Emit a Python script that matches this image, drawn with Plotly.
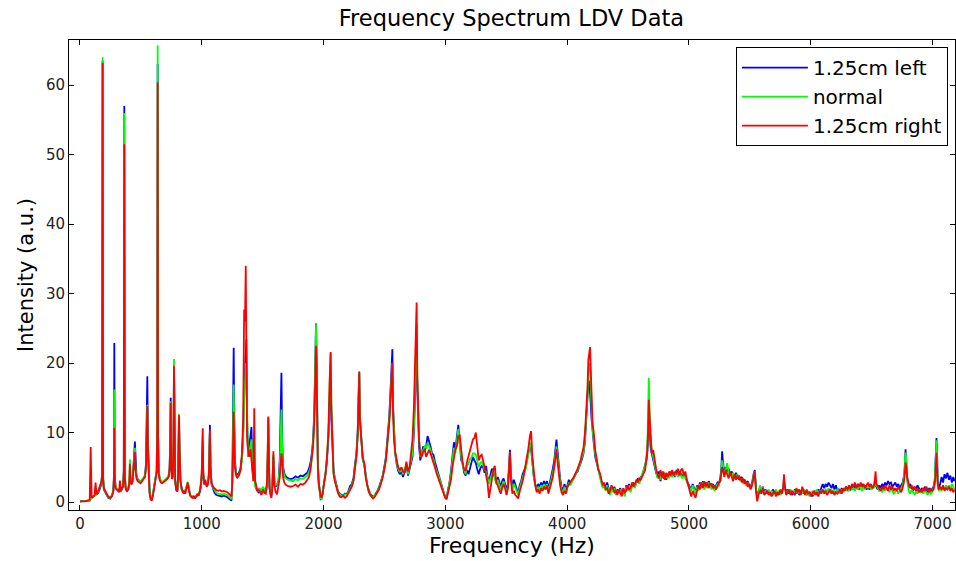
import plotly.graph_objects as go

# LDV spectrum, three probe positions (frequency in Hz, intensity in a.u.)
freq_hz = [
    0, 40, 80, 88, 96, 110, 120, 128, 136, 150,
    165, 176, 182, 186, 190, 196, 205, 218, 232, 248,
    262, 274, 279, 282, 286, 295, 308, 320, 328, 336,
    346, 354, 360, 364, 368, 375, 385, 396, 405, 410,
    416, 424, 432, 440, 447, 451, 456, 464, 474, 486,
    498, 510, 522, 534, 542, 548, 553, 558, 564, 572,
    580, 590, 600, 612, 622, 630, 635, 638, 641, 646,
    654, 664, 676, 690, 704, 716, 728, 736, 741, 745,
    749, 755, 762, 768, 772, 776, 782, 790, 800, 806,
    810, 813, 817, 825, 835, 845, 855, 865, 875, 885,
    895, 905, 915, 925, 935, 945, 955, 965, 975, 985,
    995, 1001, 1005, 1008, 1012, 1020, 1030, 1040, 1050, 1058,
    1063, 1067, 1072, 1080, 1092, 1106, 1120, 1135, 1150, 1165,
    1180, 1195, 1210, 1222, 1234, 1244, 1252, 1258, 1262, 1266,
    1272, 1282, 1292, 1305, 1318, 1330, 1340, 1348, 1355, 1361,
    1366, 1372, 1380, 1390, 1400, 1408, 1416, 1424, 1431, 1438,
    1446, 1456, 1466, 1478, 1490, 1502, 1514, 1526, 1536, 1542,
    1546, 1550, 1556, 1564, 1572, 1580, 1588, 1596, 1606, 1618,
    1630, 1640, 1648, 1654, 1660, 1668, 1680, 1695, 1710, 1730,
    1750, 1770, 1790, 1810, 1830, 1850, 1866, 1880, 1892, 1904,
    1914, 1924, 1932, 1938, 1942, 1947, 1953, 1960, 1968, 1976,
    1984, 1994, 2004, 2016, 2028, 2040, 2050, 2058, 2064, 2072,
    2082, 2092, 2104, 2118, 2132, 2146, 2160, 2175, 2190, 2204,
    2218, 2232, 2246, 2258, 2270, 2280, 2287, 2293, 2298, 2304,
    2312, 2322, 2334, 2346, 2358, 2370, 2382, 2394, 2406, 2418,
    2430, 2442, 2456, 2470, 2484, 2498, 2512, 2526, 2540, 2552,
    2560, 2565, 2570, 2578, 2588, 2600, 2612, 2626, 2640, 2652,
    2666, 2680, 2694, 2706, 2718, 2730, 2742, 2750, 2757, 2764,
    2770, 2776, 2784, 2794, 2806, 2818, 2830, 2842, 2854, 2866,
    2878, 2890, 2902, 2914, 2926, 2938, 2950, 2962, 2974, 2986,
    2998, 3010, 3022, 3034, 3046, 3058, 3070, 3082, 3094, 3106,
    3118, 3130, 3142, 3154, 3166, 3178, 3190, 3202, 3214, 3226,
    3238, 3250, 3262, 3274, 3286, 3298, 3310, 3322, 3334, 3346,
    3358, 3370, 3382, 3394, 3406, 3418, 3430, 3442, 3454, 3466,
    3478, 3490, 3502, 3514, 3522, 3530, 3538, 3550, 3562, 3574,
    3586, 3598, 3610, 3622, 3634, 3646, 3658, 3670, 3682, 3694,
    3704, 3714, 3726, 3738, 3750, 3762, 3774, 3786, 3798, 3810,
    3822, 3834, 3846, 3858, 3870, 3882, 3894, 3904, 3912, 3920,
    3930, 3942, 3954, 3966, 3978, 3990, 4002, 4014, 4026, 4038,
    4050, 4062, 4074, 4086, 4098, 4110, 4122, 4134, 4146, 4158,
    4166, 4174, 4182, 4188, 4194, 4200, 4208, 4218, 4230, 4244,
    4256, 4268, 4280, 4292, 4304, 4316, 4328, 4340, 4352, 4364,
    4376, 4388, 4400, 4412, 4424, 4436, 4448, 4460, 4472, 4484,
    4496, 4508, 4520, 4532, 4544, 4556, 4568, 4580, 4592, 4604,
    4616, 4628, 4640, 4650, 4658, 4664, 4670, 4676, 4684, 4694,
    4706, 4718, 4730, 4742, 4754, 4766, 4778, 4790, 4802, 4814,
    4826, 4838, 4850, 4862, 4874, 4886, 4898, 4910, 4922, 4934,
    4946, 4958, 4970, 4982, 4994, 5006, 5018, 5030, 5042, 5054,
    5066, 5078, 5090, 5102, 5114, 5126, 5138, 5150, 5162, 5174,
    5186, 5198, 5210, 5222, 5234, 5246, 5258, 5266, 5272, 5278,
    5290, 5302, 5314, 5326, 5338, 5350, 5362, 5374, 5386, 5398,
    5410, 5422, 5434, 5446, 5458, 5470, 5482, 5494, 5506, 5518,
    5530, 5540, 5550, 5560, 5570, 5582, 5594, 5606, 5618, 5630,
    5642, 5654, 5666, 5678, 5690, 5702, 5714, 5726, 5738, 5750,
    5762, 5774, 5780, 5786, 5798, 5810, 5822, 5834, 5846, 5858,
    5870, 5882, 5894, 5906, 5918, 5930, 5942, 5954, 5966, 5978,
    5990, 6002, 6014, 6026, 6038, 6050, 6062, 6074, 6086, 6098,
    6110, 6122, 6134, 6146, 6158, 6170, 6182, 6194, 6206, 6218,
    6230, 6242, 6254, 6266, 6278, 6290, 6302, 6314, 6326, 6338,
    6350, 6362, 6374, 6386, 6398, 6410, 6422, 6434, 6446, 6458,
    6470, 6482, 6494, 6506, 6518, 6526, 6532, 6538, 6550, 6562,
    6574, 6586, 6598, 6610, 6622, 6634, 6646, 6658, 6670, 6682,
    6694, 6706, 6718, 6730, 6742, 6754, 6764, 6772, 6778, 6784,
    6792, 6804, 6816, 6828, 6840, 6852, 6864, 6876, 6888, 6900,
    6912, 6924, 6936, 6948, 6960, 6972, 6984, 6996, 7008, 7018,
    7026, 7032, 7036, 7042, 7050, 7062, 7074, 7086, 7098, 7110,
    7122, 7134, 7146, 7158, 7170, 7180,
]

left_125cm = [
    0.1, 0.1, 0.2, 0.5, 0.6, 0.7, 0.8, 0.9, 1.0, 1.3,
    2.0, 2.6, 4.0, 63.5, 3.5, 1.8, 1.5, 1.0, 0.6, 0.5,
    0.9, 1.6, 4.0, 22.9, 3.5, 2.0, 1.7, 1.5, 1.8, 1.6,
    1.9, 2.3, 4.5, 57.0, 4.0, 2.0, 1.6, 1.8, 2.6, 3.5,
    2.8, 2.6, 3.0, 4.8, 7.5, 8.7, 5.5, 3.8, 3.3, 3.1,
    2.9, 3.1, 3.4, 3.8, 5.5, 11.0, 18.1, 9.0, 3.5, 1.4,
    0.6, 0.5, 1.2, 2.6, 3.2, 4.5, 12.0, 63.0, 10.0, 4.5,
    3.4, 3.0, 2.8, 3.0, 3.2, 3.4, 3.7, 5.0, 9.0, 15.0,
    6.0, 3.5, 3.8, 8.0, 19.5, 8.0, 3.0, 1.8, 1.6, 4.0,
    10.0, 12.5, 8.0, 3.0, 1.8, 1.4, 1.2, 1.6, 2.2, 2.6,
    1.8, 1.0, 0.8, 0.7, 0.6, 0.7, 0.8, 1.0, 1.1, 1.5,
    2.5, 4.0, 6.5, 8.0, 4.0, 2.6, 2.8, 2.4, 2.6, 4.0,
    8.0, 11.1, 5.0, 2.6, 2.0, 1.3, 1.0, 0.9, 0.8, 0.8,
    0.9, 0.8, 0.7, 0.5, 0.3, 0.2, 5.0, 18.0, 22.2, 14.0,
    6.0, 4.2, 3.8, 4.2, 4.8, 6.5, 10.0, 16.0, 20.0, 22.0,
    23.4, 12.0, 6.5, 8.0, 9.5, 10.8, 5.0, 3.5, 4.0, 2.5,
    2.0, 1.6, 1.4, 1.8, 1.5, 2.0, 1.6, 1.4, 2.5, 6.0,
    12.0, 6.0, 2.0, 1.2, 1.0, 2.5, 6.5, 2.8, 2.2, 2.5,
    3.0, 6.0, 14.0, 18.6, 9.0, 5.0, 4.0, 3.6, 3.4, 3.3,
    3.4, 3.7, 3.5, 3.8, 3.7, 4.0, 4.2, 4.8, 5.6, 7.0,
    9.0, 13.0, 20.0, 25.7, 22.0, 12.0, 6.0, 3.0, 1.0, 0.4,
    0.5, 1.5, 3.0, 4.0, 6.0, 9.5, 15.0, 18.6, 12.0, 7.6,
    4.5, 3.5, 2.5, 1.6, 1.2, 1.0, 0.9, 1.2, 1.1, 1.6,
    2.3, 2.6, 3.5, 5.5, 7.0, 10.0, 15.0, 18.6, 12.0, 10.0,
    8.8, 6.0, 5.5, 3.8, 2.5, 1.8, 1.2, 1.0, 0.7, 0.9,
    1.2, 1.6, 2.2, 3.0, 3.7, 5.0, 6.5, 9.5, 12.5, 17.0,
    20.5, 22.0, 14.0, 10.0, 7.0, 5.5, 4.5, 4.0, 4.4, 3.6,
    4.5, 5.2, 3.8, 4.6, 5.8, 6.5, 10.0, 15.0, 20.0, 23.0,
    16.0, 11.0, 8.0, 6.0, 7.0, 8.0, 7.5, 8.0, 9.5, 8.8,
    8.0, 7.0, 6.8, 5.8, 5.0, 4.6, 3.8, 3.0, 2.2, 1.4,
    0.8, 0.6, 1.8, 2.8, 4.5, 7.0, 8.6, 7.5, 9.0, 11.1,
    8.5, 6.0, 5.6, 4.2, 3.8, 4.6, 4.0, 5.0, 5.6, 6.5,
    6.0, 5.6, 4.7, 4.0, 4.8, 5.2, 5.0, 4.2, 5.2, 3.6,
    3.0, 3.8, 4.8, 4.2, 3.4, 2.8, 3.6, 3.0, 2.0, 3.0,
    3.4, 2.6, 1.8, 2.6, 4.5, 7.5, 4.0, 2.0, 3.2, 2.6,
    2.0, 1.2, 2.4, 3.0, 4.0, 4.6, 5.0, 6.2, 7.0, 8.0,
    7.6, 5.2, 3.6, 2.6, 1.8, 2.6, 2.2, 2.8, 2.4, 3.0,
    2.4, 3.0, 2.0, 2.8, 3.6, 4.8, 6.0, 8.0, 9.0, 7.5,
    5.0, 3.4, 2.2, 1.6, 2.6, 1.8, 2.4, 3.2, 2.6, 3.0,
    3.6, 3.8, 4.2, 4.4, 5.2, 5.6, 6.2, 7.0, 8.6, 12.0,
    14.0, 17.5, 17.2, 16.0, 14.0, 12.0, 10.0, 8.5, 6.5, 5.5,
    4.8, 4.0, 3.2, 2.2, 2.6, 2.0, 2.8, 1.8, 1.2, 2.2,
    1.6, 2.2, 1.2, 1.8, 1.4, 2.0, 1.2, 1.8, 1.0, 2.4,
    1.8, 2.6, 1.6, 2.4, 2.8, 2.2, 3.0, 3.4, 2.8, 3.6,
    3.8, 4.6, 5.0, 6.0, 7.0, 9.0, 12.0, 11.0, 8.0, 7.0,
    6.0, 5.2, 4.2, 3.6, 4.4, 3.0, 4.2, 3.4, 4.0, 3.2,
    4.0, 3.6, 4.4, 3.8, 4.2, 3.6, 4.6, 3.8, 4.4, 4.0,
    3.6, 4.2, 3.6, 3.0, 2.6, 2.2, 1.8, 2.6, 2.0, 1.4,
    2.4, 1.8, 2.8, 2.2, 3.0, 2.0, 2.8, 2.2, 3.0, 2.4,
    2.0, 2.6, 1.8, 2.4, 2.8, 2.6, 3.6, 5.0, 7.3, 6.0,
    4.2, 5.0, 4.4, 4.8, 3.8, 4.4, 4.0, 3.6, 4.2, 3.4,
    3.8, 3.2, 3.6, 2.8, 3.2, 2.6, 3.0, 2.4, 2.2, 2.8,
    4.0, 4.6, 2.0, 0.8, 1.4, 2.0, 1.6, 2.2, 1.4, 1.8,
    1.2, 1.6, 1.0, 1.4, 1.8, 1.2, 1.6, 1.0, 1.4, 1.2,
    1.6, 2.0, 3.4, 2.2, 1.4, 1.8, 1.2, 1.6, 1.0, 1.4,
    1.8, 1.2, 1.6, 1.0, 1.4, 1.8, 1.2, 1.6, 1.0, 1.4,
    1.0, 1.4, 0.8, 1.2, 1.6, 1.0, 1.8, 1.4, 2.2, 2.6,
    2.0, 2.6, 2.2, 2.8, 2.4, 2.0, 2.6, 1.8, 2.4, 1.6,
    1.8, 1.4, 2.0, 1.6, 1.8, 2.2, 1.6, 2.0, 1.8, 2.2,
    1.8, 2.4, 2.0, 2.6, 1.8, 2.2, 2.6, 2.0, 2.4, 1.8,
    2.2, 1.8, 2.4, 2.0, 2.2, 2.4, 2.8, 2.2, 1.8, 2.4,
    2.0, 2.6, 2.2, 2.8, 2.4, 3.0, 2.6, 2.8, 2.2, 2.6,
    2.8, 2.2, 2.6, 2.0, 2.4, 2.8, 3.6, 5.0, 7.6, 6.0,
    3.2, 2.2, 2.6, 2.0, 1.6, 2.2, 1.8, 2.4, 2.0, 1.6,
    2.0, 1.6, 2.2, 1.8, 1.4, 2.0, 1.6, 1.8, 2.2, 3.2,
    6.0, 9.2, 7.5, 3.0, 2.0, 2.6, 3.6, 2.8, 4.0, 3.4,
    4.2, 3.2, 3.8, 2.8, 3.6, 3.0,
]

normal = [
    0.1, 0.1, 0.2, 0.5, 0.6, 0.7, 0.9, 1.0, 1.1, 1.5,
    2.2, 2.8, 4.2, 64.0, 3.6, 2.0, 1.6, 1.1, 0.7, 0.6,
    1.0, 1.7, 3.5, 16.2, 3.0, 2.1, 1.8, 1.6, 1.9, 1.7,
    2.0, 2.4, 4.6, 56.0, 4.0, 2.1, 1.6, 1.9, 3.2, 6.1,
    3.0, 2.8, 3.2, 5.2, 7.0, 7.8, 5.0, 3.7, 3.2, 3.0,
    3.0, 3.2, 3.5, 3.9, 5.2, 10.0, 14.0, 7.5, 3.2, 1.3,
    0.7, 0.6, 1.3, 2.7, 3.3, 4.6, 12.5, 65.7, 10.5, 4.6,
    3.5, 3.1, 2.9, 3.1, 3.3, 3.5, 3.8, 4.8, 8.5, 14.5,
    6.0, 3.6, 4.0, 9.0, 20.6, 8.5, 3.2, 1.9, 1.7, 4.2,
    10.5, 12.7, 8.5, 3.2, 1.9, 1.5, 1.3, 1.7, 2.4, 2.9,
    1.9, 1.1, 0.9, 0.8, 0.7, 0.8, 0.9, 1.1, 1.2, 1.7,
    2.7, 4.2, 7.5, 9.0, 4.2, 2.7, 2.9, 2.5, 2.7, 4.2,
    7.5, 10.2, 5.0, 2.7, 2.1, 1.6, 1.3, 1.2, 1.1, 1.1,
    1.2, 1.1, 1.0, 0.8, 0.6, 0.4, 4.0, 14.0, 16.9, 11.0,
    5.5, 4.0, 3.6, 3.9, 4.5, 6.0, 9.0, 14.0, 17.0, 20.0,
    19.0, 11.0, 6.5, 7.0, 8.0, 9.0, 4.5, 3.0, 4.5, 2.2,
    2.1, 1.8, 1.5, 1.9, 1.6, 2.2, 1.8, 1.5, 2.6, 7.0,
    12.0, 6.5, 2.2, 1.4, 1.2, 2.8, 6.8, 3.0, 2.4, 2.6,
    2.9, 5.0, 10.0, 13.3, 8.0, 4.6, 3.6, 3.3, 3.2, 3.1,
    3.0, 3.3, 3.1, 3.4, 3.3, 3.6, 3.8, 4.3, 5.0, 6.5,
    8.5, 12.5, 20.5, 25.6, 21.0, 11.0, 5.5, 2.5, 1.0, 0.5,
    0.4, 1.6, 3.0, 4.2, 6.5, 10.0, 17.0, 21.4, 14.0, 8.0,
    4.3, 3.3, 2.3, 1.4, 1.1, 0.9, 0.8, 1.1, 1.0, 1.5,
    2.0, 2.4, 3.2, 5.2, 6.8, 9.8, 15.0, 18.8, 12.5, 10.5,
    8.6, 6.2, 5.3, 3.6, 2.4, 1.6, 1.1, 0.8, 0.6, 1.0,
    1.1, 1.5, 2.0, 2.8, 3.6, 4.8, 6.2, 9.0, 12.0, 16.0,
    19.0, 20.0, 13.5, 9.5, 7.0, 5.8, 4.8, 4.3, 4.7, 4.0,
    4.8, 5.5, 4.0, 5.0, 6.2, 7.0, 11.0, 17.0, 22.0, 25.5,
    17.0, 12.0, 9.0, 6.5, 7.0, 7.5, 8.0, 7.8, 8.5, 8.0,
    7.5, 6.6, 6.2, 5.2, 4.6, 4.2, 3.4, 2.8, 2.0, 1.2,
    0.7, 0.5, 1.5, 2.5, 4.0, 6.0, 7.8, 7.0, 8.5, 10.5,
    8.0, 6.2, 5.2, 4.6, 4.0, 5.2, 5.5, 6.2, 6.4, 7.0,
    7.0, 6.8, 5.8, 5.0, 5.6, 5.8, 5.4, 4.6, 4.4, 3.2,
    2.6, 3.4, 4.2, 4.6, 3.6, 2.6, 3.2, 2.6, 1.8, 2.4,
    3.0, 2.2, 1.5, 2.2, 4.0, 6.5, 3.5, 1.6, 2.6, 2.0,
    1.6, 1.0, 2.0, 2.6, 3.5, 4.2, 4.6, 5.6, 6.8, 8.6,
    8.0, 5.6, 3.6, 2.4, 1.6, 2.2, 1.8, 2.4, 2.0, 2.6,
    2.0, 2.6, 1.6, 2.4, 3.2, 4.2, 5.2, 7.0, 8.0, 6.8,
    4.4, 3.0, 1.8, 1.3, 2.2, 1.5, 2.0, 2.8, 2.4, 2.8,
    3.4, 3.6, 4.0, 4.6, 5.0, 5.8, 6.6, 7.2, 9.0, 12.5,
    15.0, 19.0, 20.0, 19.0, 16.0, 13.0, 10.5, 9.0, 7.0, 5.8,
    4.4, 3.6, 2.8, 2.0, 2.4, 1.6, 2.4, 1.6, 1.0, 2.0,
    1.4, 2.0, 1.0, 1.6, 1.2, 1.8, 1.0, 1.6, 0.8, 2.2,
    1.6, 2.4, 1.4, 2.2, 2.6, 2.0, 2.8, 3.0, 2.6, 3.4,
    4.0, 4.8, 5.2, 6.5, 8.0, 12.0, 17.9, 14.0, 9.5, 7.5,
    6.5, 5.6, 4.4, 3.4, 4.0, 3.2, 4.4, 3.6, 4.2, 3.4,
    3.8, 3.4, 4.2, 3.6, 4.0, 3.8, 4.4, 3.6, 4.2, 3.8,
    3.4, 4.0, 3.4, 2.8, 2.4, 2.0, 1.6, 2.4, 1.8, 1.2,
    2.2, 1.6, 2.6, 2.0, 2.8, 1.8, 2.6, 2.0, 2.8, 2.2,
    1.8, 2.4, 1.6, 2.2, 2.6, 2.4, 3.2, 4.5, 6.0, 5.5,
    4.0, 4.6, 5.6, 4.2, 4.0, 3.6, 4.2, 3.8, 3.6, 4.0,
    3.6, 3.0, 3.4, 2.6, 3.0, 2.4, 2.8, 2.2, 2.0, 2.6,
    3.8, 4.4, 1.8, 0.6, 1.2, 2.4, 1.8, 2.0, 1.2, 1.6,
    1.4, 1.8, 1.2, 1.6, 1.0, 1.4, 1.8, 1.2, 1.6, 1.0,
    1.4, 1.8, 3.2, 2.0, 1.2, 1.6, 1.4, 1.8, 1.2, 1.6,
    1.6, 1.4, 1.8, 1.2, 1.6, 1.2, 1.8, 1.4, 1.0, 1.6,
    0.8, 1.2, 1.6, 1.0, 1.4, 1.8, 1.2, 1.6, 1.4, 1.8,
    1.4, 1.8, 1.6, 2.0, 1.4, 1.8, 1.2, 1.6, 1.4, 1.8,
    1.6, 1.2, 1.8, 1.4, 2.0, 1.6, 2.0, 1.6, 2.2, 1.8,
    2.0, 1.6, 2.2, 1.8, 2.4, 2.0, 1.6, 2.2, 1.8, 2.4,
    2.0, 2.4, 1.8, 2.2, 2.0, 2.6, 3.2, 2.4, 2.0, 1.6,
    1.8, 1.4, 2.0, 1.6, 2.2, 1.8, 1.4, 2.0, 1.6, 1.2,
    1.4, 1.8, 1.2, 1.6, 2.0, 2.4, 3.4, 5.0, 7.1, 6.2,
    3.0, 1.6, 1.2, 1.8, 1.4, 1.0, 1.6, 1.2, 1.8, 1.4,
    1.6, 1.2, 1.8, 1.4, 1.0, 1.6, 1.2, 1.4, 2.0, 3.0,
    5.5, 8.9, 7.0, 2.8, 1.6, 2.0, 1.6, 2.2, 1.8, 2.4,
    2.0, 2.4, 1.8, 2.6, 2.2, 1.8,
]

right_125cm = [
    0.1, 0.1, 0.3, 7.9, 0.6, 0.8, 1.0, 2.8, 1.1, 1.6,
    2.3, 2.9, 4.0, 63.2, 3.4, 2.0, 1.7, 1.2, 0.8, 0.6,
    0.8, 1.5, 3.0, 10.7, 2.5, 1.9, 1.7, 1.5, 3.1, 1.6,
    2.0, 2.3, 4.2, 51.5, 3.6, 2.0, 1.5, 1.8, 2.8, 5.5,
    2.7, 2.6, 3.0, 4.8, 6.5, 7.2, 4.6, 3.4, 3.0, 2.8,
    2.7, 3.0, 3.3, 3.6, 4.8, 9.5, 13.8, 7.0, 3.0, 1.2,
    0.4, 0.2, 1.0, 2.5, 3.1, 4.3, 11.0, 60.4, 9.5, 4.2,
    3.2, 2.8, 2.7, 2.9, 3.1, 3.3, 3.6, 4.6, 8.0, 14.3,
    5.5, 3.3, 3.6, 8.5, 19.6, 8.0, 3.0, 1.7, 1.5, 4.0,
    10.0, 12.5, 8.0, 3.0, 2.0, 1.3, 1.6, 1.2, 2.0, 2.8,
    1.6, 0.9, 0.7, 0.6, 0.9, 0.5, 0.8, 1.2, 0.9, 1.6,
    3.0, 5.0, 9.0, 10.6, 4.5, 2.5, 3.2, 2.2, 2.5, 3.6,
    7.0, 10.4, 4.8, 2.8, 2.2, 1.9, 1.7, 1.6, 1.7, 1.5,
    1.6, 1.5, 1.4, 1.2, 1.0, 0.8, 3.0, 10.0, 13.0, 9.0,
    5.0, 3.8, 3.5, 3.8, 4.6, 7.0, 12.0, 27.7, 26.0, 34.0,
    14.0, 9.5, 7.5, 6.5, 7.6, 6.0, 4.0, 3.0, 13.5, 3.0,
    2.4, 1.6, 1.8, 1.4, 1.0, 1.8, 1.3, 1.2, 3.0, 8.0,
    12.3, 6.5, 2.2, 1.0, 0.6, 2.2, 7.3, 2.5, 1.5, 1.1,
    2.5, 3.5, 5.5, 7.0, 6.0, 3.5, 2.7, 2.4, 2.3, 2.2,
    2.3, 2.5, 2.2, 2.6, 2.5, 2.8, 3.2, 3.6, 4.5, 6.0,
    8.0, 11.5, 17.0, 22.5, 20.0, 10.0, 5.0, 2.6, 1.2, 0.8,
    0.7, 1.2, 2.8, 4.0, 6.5, 10.0, 17.5, 21.6, 13.5, 7.6,
    4.0, 3.0, 2.0, 1.3, 0.8, 0.7, 0.9, 0.6, 0.8, 1.2,
    1.8, 2.2, 3.0, 5.0, 6.6, 9.5, 14.5, 18.8, 12.0, 10.0,
    8.6, 6.4, 5.6, 3.5, 2.3, 1.5, 1.0, 0.8, 0.5, 0.7,
    1.0, 1.3, 1.8, 2.6, 3.4, 4.6, 6.0, 8.8, 11.5, 15.5,
    18.5, 20.0, 13.0, 9.0, 7.2, 6.0, 5.0, 4.6, 5.0, 4.4,
    4.2, 5.8, 4.4, 5.0, 7.0, 9.0, 13.8, 20.0, 25.0, 28.7,
    18.0, 12.3, 9.0, 7.0, 6.5, 7.2, 7.6, 6.5, 7.0, 7.5,
    7.0, 6.4, 5.5, 5.0, 4.2, 3.6, 3.0, 2.4, 1.6, 1.0,
    0.6, 0.4, 1.2, 2.0, 3.2, 5.0, 6.5, 7.6, 8.0, 9.5,
    9.6, 7.6, 5.6, 4.7, 4.5, 5.8, 6.6, 7.0, 8.0, 9.0,
    9.2, 10.0, 8.0, 6.0, 6.6, 6.8, 6.0, 5.0, 3.8, 2.8,
    0.6, 2.2, 3.4, 4.6, 5.2, 2.8, 2.4, 1.8, 1.2, 2.0,
    2.6, 2.0, 1.0, 2.0, 4.0, 7.2, 3.2, 1.2, 1.6, 1.0,
    0.8, 0.5, 1.5, 2.2, 3.0, 4.0, 5.2, 6.6, 7.8, 9.5,
    10.2, 6.6, 4.2, 2.4, 1.4, 1.8, 1.2, 2.0, 1.6, 2.2,
    1.8, 2.4, 1.2, 2.0, 2.6, 3.6, 5.0, 6.5, 7.6, 6.0,
    4.0, 2.4, 1.4, 1.0, 1.6, 1.2, 2.2, 2.6, 2.8, 3.2,
    3.4, 3.8, 4.4, 4.8, 5.4, 6.0, 7.0, 7.8, 10.0, 13.5,
    16.0, 20.5, 21.5, 22.3, 19.0, 14.5, 11.5, 10.0, 7.5, 6.0,
    4.6, 4.2, 3.0, 2.4, 2.8, 1.8, 2.0, 1.2, 1.6, 2.4,
    2.0, 1.4, 1.6, 1.0, 1.8, 1.2, 0.8, 2.0, 1.4, 1.6,
    2.4, 1.8, 2.0, 2.8, 2.2, 2.6, 3.2, 2.8, 3.4, 3.2,
    3.6, 4.2, 4.6, 6.0, 7.5, 10.0, 14.7, 12.5, 9.0, 7.0,
    7.5, 6.0, 4.8, 4.0, 3.4, 4.6, 3.6, 4.4, 3.2, 4.2,
    3.6, 4.4, 3.8, 4.6, 3.8, 4.4, 4.0, 4.8, 3.8, 4.6,
    4.8, 3.8, 4.4, 3.2, 2.4, 1.6, 0.8, 1.6, 1.2, 0.6,
    1.6, 2.4, 1.8, 2.8, 2.0, 3.0, 2.2, 2.8, 2.0, 2.6,
    2.6, 2.0, 2.4, 1.8, 2.2, 2.8, 3.0, 4.0, 5.0, 4.8,
    3.6, 4.6, 4.0, 3.4, 4.4, 3.6, 3.0, 4.0, 3.2, 3.8,
    3.2, 3.6, 2.8, 3.4, 2.6, 3.0, 2.2, 2.6, 1.8, 2.4,
    3.6, 4.4, 1.6, 0.1, 1.0, 1.6, 1.2, 2.0, 1.0, 1.4,
    1.6, 1.0, 1.4, 0.8, 1.2, 1.6, 0.8, 1.4, 1.0, 1.8,
    1.2, 2.0, 4.0, 2.4, 1.0, 1.4, 1.8, 1.0, 1.6, 1.2,
    1.0, 2.0, 1.4, 1.8, 1.0, 2.2, 1.4, 1.0, 1.8, 1.2,
    1.4, 0.8, 1.2, 1.6, 1.0, 1.4, 0.8, 1.6, 1.2, 1.8,
    1.2, 1.6, 1.0, 1.4, 1.8, 1.2, 1.6, 1.0, 1.4, 1.2,
    1.4, 1.8, 1.2, 2.0, 1.6, 2.2, 1.8, 2.4, 1.8, 2.6,
    2.2, 2.8, 2.0, 2.6, 2.2, 2.8, 2.2, 2.6, 2.0, 2.4,
    2.8, 2.2, 2.6, 2.0, 2.4, 3.2, 4.4, 2.6, 2.2, 2.0,
    1.6, 2.2, 1.8, 2.4, 2.0, 1.6, 2.4, 1.8, 2.2, 1.6,
    2.0, 1.6, 2.2, 1.8, 1.4, 2.0, 2.8, 4.0, 5.7, 5.0,
    3.6, 2.6, 2.0, 2.4, 1.8, 2.2, 1.6, 2.0, 1.4, 1.8,
    1.4, 2.0, 1.6, 2.2, 1.8, 1.4, 2.0, 1.6, 1.8, 2.6,
    4.5, 7.1, 5.5, 2.6, 1.8, 2.2, 1.8, 2.4, 1.6, 2.0,
    1.8, 2.2, 1.6, 2.0, 1.4, 1.8,
]

series_names = ["1.25cm left", "normal", "1.25cm right"]
series_colors = ["#0000FF", "#00FF00", "#FF0000"]
x_ticks = [0, 1000, 2000, 3000, 4000, 5000, 6000, 7000]
y_ticks = [0, 10, 20, 30, 40, 50, 60]

assert len(freq_hz) == len(left_125cm) == len(normal) == len(right_125cm)

FONT = "DejaVu Sans, Arial, sans-serif"

fig = go.Figure()
for name, color, values in zip(series_names, series_colors,
                               [left_125cm, normal, right_125cm]):
    fig.add_trace(go.Scatter(
        x=freq_hz, y=values, mode="lines", name=name,
        line=dict(color=color, width=1.8),
    ))

axis_common = dict(
    showline=True, linecolor="black", linewidth=1, mirror="ticks",
    ticks="inside", ticklen=5, tickcolor="black", showgrid=False,
    zeroline=False, tickfont=dict(family=FONT, size=15, color="#222"),
)

fig.update_layout(
    width=956, height=561,
    margin=dict(l=69, r=1, t=40, b=51),
    paper_bgcolor="white", plot_bgcolor="white",
    title=dict(text="Frequency Spectrum LDV Data", x=0.535, xanchor="center",
               y=0.967, yanchor="middle",
               font=dict(family=FONT, size=22.5, color="black")),
    xaxis=dict(range=[-90, 7184], tickvals=x_ticks,
               title=dict(text="Frequency (Hz)", standoff=4,
                          font=dict(family=FONT, size=22, color="black")),
               **axis_common),
    yaxis=dict(range=[-1.15, 66.5], tickvals=y_ticks,
               title=dict(text="Intensity (a.u.)", standoff=6,
                          font=dict(family=FONT, size=21, color="black")),
               **axis_common),
    legend=dict(x=0.992, y=0.985, xanchor="right", yanchor="top",
                bgcolor="white", bordercolor="black", borderwidth=1,
                font=dict(family=FONT, size=20, color="black"),
                tracegroupgap=0, itemwidth=66),
    showlegend=True,
)

fig.write_html("out.html")
